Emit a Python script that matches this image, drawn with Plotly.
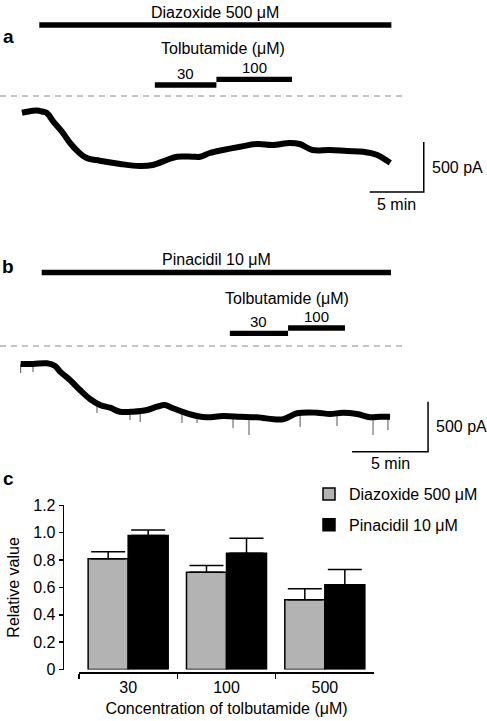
import plotly.graph_objects as go

W, H = 487, 721
FONT = "Liberation Sans, Arial, sans-serif"

# ---------------- Panel a: diazoxide recording ----------------
a_time = [0.0, 1.0, 1.4, 1.85, 2.3, 2.9, 3.7, 4.45, 5.2, 6.0, 7.2, 9.1, 10.9, 12.1, 13.4,
          14.35, 15.8, 16.5, 17.4, 18.6, 20.2, 21.8, 23.2, 24.8, 25.7, 26.9, 28.5, 30.1,
          31.6, 32.9, 33.8, 34.1]
a_current = [-167, -147, -145, -155, -170, -257, -357, -470, -557, -620, -647, -680, -700,
             -690, -640, -607, -607, -607, -570, -540, -507, -480, -490, -470, -480, -540,
             -540, -550, -557, -590, -647, -667]
a_opener = ("Diazoxide 500 μM", 1.6, 34.2)
a_tolb_conc = ["30", "100"]
a_tolb_start = [12.3, 18.0]
a_tolb_end = [18.0, 25.0]

# ---------------- Panel b: pinacidil recording ----------------
b_time = [0.0, 0.81, 1.73, 2.26, 2.59, 3.24, 3.9, 4.56, 5.22, 5.88, 6.53, 7.39, 8.32, 8.97,
          9.5, 10.02, 10.94, 11.6, 12.26, 13.31, 14.43, 15.55, 17.26, 18.18, 19.5, 20.35,
          21.2, 22.13, 22.98, 23.64, 24.3]
b_current = [-180, -180, -173, -200, -257, -340, -440, -530, -590, -617, -657, -657, -640,
             -607, -590, -623, -673, -700, -713, -700, -707, -713, -733, -673, -667, -680,
             -667, -680, -713, -707, -707]
b_spike_time = [0.0, 0.81, 5.02, 7.19, 7.86, 10.61, 11.6, 13.97, 15.02, 18.38, 20.81, 23.18, 24.16]
b_spike_top = [-180, -180, -590, -657, -650, -660, -700, -705, -710, -680, -670, -710, -707]
b_spike_bottom = [-270, -260, -670, -740, -760, -770, -770, -820, -890, -810, -800, -890, -840]
b_opener = ("Pinacidil 10 μM", 1.38, 24.36)
b_tolb_conc = ["30", "100"]
b_tolb_start = [13.76, 17.59]
b_tolb_end = [17.59, 21.33]

# scale bars
scale_time = 5      # min
scale_current = 500  # pA

# ---------------- Panel c: summary ----------------
conc = ["30", "100", "500"]
diaz_mean = [0.81, 0.71, 0.51]
diaz_sem = [0.05, 0.05, 0.08]
pina_mean = [0.98, 0.85, 0.62]
pina_sem = [0.04, 0.11, 0.11]
y_ticks = [0, 0.2, 0.4, 0.6, 0.8, 1.0, 1.2]
y_ticktext = ["0", "0.2", "0.4", "0.6", "0.8", "1.0", "1.2"]


def P(py):
    return 1 - py / H


fig = go.Figure()

# recordings
fig.add_trace(go.Scatter(x=a_time, y=a_current, mode="lines", line=dict(color="black", width=6, shape="spline"),
                         xaxis="x", yaxis="y", showlegend=False, hoverinfo="skip"))
sx, sy = [], []
for t, top, bot in zip(b_spike_time, b_spike_top, b_spike_bottom):
    sx += [t, t, None]
    sy += [top, bot, None]
fig.add_trace(go.Scatter(x=sx, y=sy, mode="lines", line=dict(color="#555", width=1),
                         xaxis="x2", yaxis="y2", showlegend=False, hoverinfo="skip"))
fig.add_trace(go.Scatter(x=b_time, y=b_current, mode="lines", line=dict(color="black", width=6, shape="spline"),
                         xaxis="x2", yaxis="y2", showlegend=False, hoverinfo="skip"))

# bars
fig.add_trace(go.Bar(x=conc, y=diaz_mean, name="Diazoxide 500 μM", marker=dict(color="#b3b3b3", line=dict(color="black", width=1.5)),
                     error_y=dict(type="data", array=diaz_sem, arrayminus=[0] * 3, symmetric=False,
                                  color="black", thickness=1.5, width=17),
                     xaxis="x3", yaxis="y3", legendgroup="d"))
fig.add_trace(go.Bar(x=conc, y=pina_mean, name="Pinacidil 10 μM", marker=dict(color="black", line=dict(color="black", width=1.5)),
                     error_y=dict(type="data", array=pina_sem, arrayminus=[0] * 3, symmetric=False,
                                  color="black", thickness=1.5, width=17),
                     xaxis="x3", yaxis="y3", legendgroup="p"))

shapes = []
annotations = []


def txt(text, x, y, xref, yref, size=16, xanchor="center", yanchor="middle", bold=False, xshift=0, yshift=0):
    annotations.append(dict(text=("<b>%s</b>" % text) if bold else text, x=x, y=y, xref=xref, yref=yref,
                            showarrow=False, xanchor=xanchor, yanchor=yanchor, xshift=xshift, yshift=yshift,
                            font=dict(family=FONT, size=size, color="black")))


def hbar(x0, x1, py, xref, w=5.3):
    shapes.append(dict(type="line", xref=xref, yref="paper", x0=x0, x1=x1, y0=P(py), y1=P(py),
                       line=dict(color="black", width=w)))


# panel a decorations
name, s, e = a_opener
hbar(s, e, 25, "x")
txt(name, (s + e) / 2, P(12.5), "x", "paper")
txt("Tolbutamide (μM)", (a_tolb_start[0] + a_tolb_end[-1]) / 2, P(48.5), "x", "paper")
for c, s, e, py in zip(a_tolb_conc, a_tolb_start, a_tolb_end, [85, 79.3]):
    hbar(s, e, py, "x")
    txt(c, (s + e) / 2, P(py - 11.5), "x", "paper", size=15)
shapes.append(dict(type="line", xref="paper", yref="y", x0=0, x1=405 / W, y0=0, y1=0,
                   line=dict(color="#888", width=1, dash="6px,5px")))
ca_t, ca_i = 37.2, -960
shapes.append(dict(type="path", xref="x", yref="y",
                   path="M %f %f L %f %f L %f %f" % (ca_t - scale_time, ca_i, ca_t, ca_i, ca_t, ca_i + scale_current),
                   line=dict(color="black", width=1.5)))
txt("500 pA", ca_t, ca_i + scale_current / 2, "x", "y", xanchor="left", xshift=6)
txt("5 min", ca_t - scale_time / 2, ca_i, "x", "y", yshift=-12)

# panel b decorations
name, s, e = b_opener
hbar(s, e, 272.5, "x2")
txt(name, (s + e) / 2, P(259.5), "x2", "paper")
txt("Tolbutamide (μM)", (b_tolb_start[0] + b_tolb_end[-1]) / 2, P(298), "x2", "paper")
for c, s, e, py in zip(b_tolb_conc, b_tolb_start, b_tolb_end, [333.3, 328]):
    hbar(s, e, py, "x2")
    txt(c, (s + e) / 2, P(py - 12), "x2", "paper", size=15)
shapes.append(dict(type="line", xref="paper", yref="y2", x0=0, x1=405 / W, y0=0, y1=0,
                   line=dict(color="#888", width=1, dash="6px,5px")))
cb_t, cb_i = 26.8, -1057
shapes.append(dict(type="path", xref="x2", yref="y2",
                   path="M %f %f L %f %f L %f %f" % (cb_t - scale_time, cb_i, cb_t, cb_i, cb_t, cb_i + scale_current),
                   line=dict(color="black", width=1.5)))
txt("500 pA", cb_t, cb_i + scale_current / 2, "x2", "y2", xanchor="left", xshift=6)
txt("5 min", cb_t - scale_time / 2, cb_i, "x2", "y2", yshift=-12)

# panel labels
txt("a", 8 / W, P(37), "paper", "paper", size=19, bold=True)
txt("b", 8 / W, P(266), "paper", "paper", size=19, bold=True)
txt("c", 8 / W, P(478), "paper", "paper", size=19, bold=True)

hidden = dict(visible=False, showgrid=False, zeroline=False, fixedrange=True)

fig.update_layout(
    width=W, height=H, margin=dict(l=0, r=0, t=0, b=0, autoexpand=False),
    paper_bgcolor="white", plot_bgcolor="rgba(0,0,0,0)",
    font=dict(family=FONT, size=16, color="black"),
    shapes=shapes, annotations=annotations,
    xaxis=dict(domain=[0, 1], range=[-22 / 10.8, (W - 22) / 10.8], anchor="y", **hidden),
    yaxis=dict(domain=[P(240), 1], range=[-1440, 960], anchor="x", **hidden),
    xaxis2=dict(domain=[0, 1], range=[-20.7 / 15.2, (W - 20.7) / 15.2], anchor="y2", **hidden),
    yaxis2=dict(domain=[P(475), P(245)], range=[-1290, 1010], anchor="x2", **hidden),
    xaxis3=dict(domain=[79 / W, 374 / W], anchor="free", position=P(672), type="category",
                showline=True, linecolor="black", linewidth=1.5, ticks="outside", tickson="boundaries",
                ticklen=5, tickwidth=1.5, tickcolor="black", tickfont=dict(size=16), automargin=False,
                title=dict(text="Concentration of tolbutamide (μM)", font=dict(size=16), standoff=8),
                showgrid=False, zeroline=False),
    yaxis3=dict(domain=[P(669.5), P(505.3)], range=[0, 1.2], anchor="free", position=62.7 / W,
                showline=True, linecolor="black", linewidth=1.5, ticks="outside", ticklen=4, tickwidth=1.5,
                tickcolor="black", tickvals=y_ticks, ticktext=y_ticktext, tickfont=dict(size=16), automargin=False,
                title=dict(text="Relative value", font=dict(size=16), standoff=8),
                showgrid=False, zeroline=False),
    barmode="group", bargap=0.186, bargroupgap=0,
    legend=dict(x=309 / W, y=P(477), xanchor="left", yanchor="top", font=dict(size=16),
                bgcolor="rgba(0,0,0,0)", tracegroupgap=7),
)

fig.write_html("out.html", config={"displayModeBar": False, "staticPlot": True},
               post_script="document.body.style.margin='0px';")
